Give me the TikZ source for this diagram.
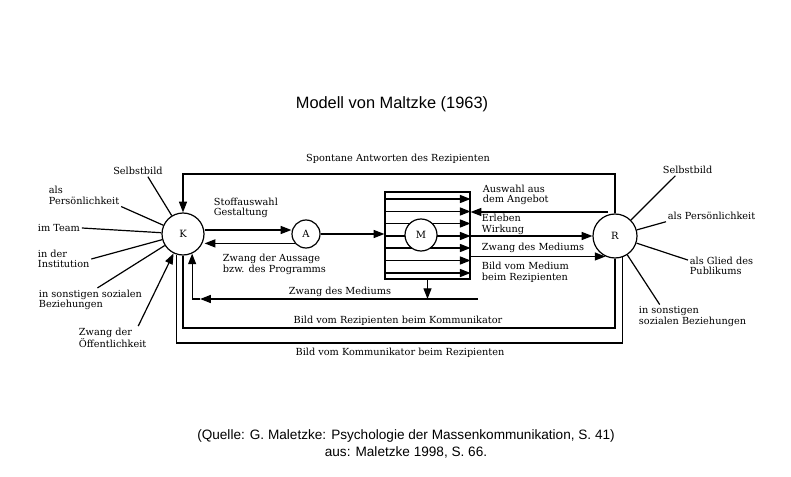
\documentclass[tikz,border=0pt]{standalone}
\usepackage{fontspec}
\usetikzlibrary{arrows.meta,positioning}
\newfontfamily\diafont{DejaVu Serif}
\newfontfamily\capfont{Liberation Sans}

\begin{document}
\begin{tikzpicture}[x=0.75pt,y=-0.75pt,line width=0.9pt,
    lbl/.style={font=\diafont\fontsize{7.3}{8}\selectfont,inner sep=1pt,align=left},
    pers/.style={draw,circle,fill=white,inner sep=0pt,font=\diafont\fontsize{7.5}{9}\selectfont},
    arr/.style={-{Triangle[length=8pt,width=6pt]}}]
    \useasboundingbox (0,0) rectangle (791,477);
    \node[font=\capfont\fontsize{12.3}{14}\selectfont] (title) at (392,104) {Modell von Maltzke (1963)};
    \node[font=\capfont\fontsize{10.2}{12.2}\selectfont,align=center] (src) at (406,444)
        {(Quelle: G. Maletzke: Psychologie der Massenkommunikation, S. 41)\\aus: Maletzke 1998, S. 66.};

    \node[pers,minimum size=31.5pt] (K) at (183,234) {K};
    \node[pers,minimum size=21pt] (A) at (306,234) {A};
    \node[pers,minimum size=33pt] (R) at (615,236) {R};
    \node[draw,minimum width=63.75pt,minimum height=65.25pt,inner sep=0pt] (box) at (427.5,235.5) {};
    \foreach \y in {199,211.5,223.5,236,248,260.5,273}
        \draw[arr] (box.west |- 0,\y) -- (box.east |- 0,\y);
    \node[pers,minimum size=24pt] (M) at (421,235) {M};

    \coordinate (top) at (400,174); \coordinate (aw) at (608,212);
    \coordinate (zm) at (478,299); \coordinate (zc) at (zm -| K.295);
    \coordinate (brk) at (400,328); \coordinate (bkr) at (400,343);

    \draw[arr] ([yshift=3pt]K.east) -- ([yshift=3pt]A.west);
    \draw[arr] (A.220) -- (A.220 -| K.east);
    \draw[arr] (A.east) -- (A.east -| box.west);
    \draw[arr] (box.east |- R.west) -- (R.west);
    \draw[arr] (box.east |- R.245) -- (R.245);
    \draw[arr] (aw) -- (aw -| box.east);
    \draw[arr] (R.north) |- (top) -| (K.north);
    \draw[arr] (box.south) -- (box.south |- zm);
    \draw[arr] (zm) -- ([xshift=6pt]zc);
    \draw[arr] ([xshift=6pt]zc) -| (K.295);
    \draw (R.south) |- (brk) -| (K.south);
    \draw (R.290) |- (bkr) -| (K.253);

    \node[lbl] (spa) at (398,159) {Spontane Antworten des Rezipienten};
    \node[lbl,anchor=west] (sto) at (212,208) {Stoffauswahl\\Gestaltung};
    \node[lbl,anchor=west] (zda) at (221,264.5) {Zwang der Aussage\\bzw. des Programms};
    \node[lbl] (zdm) at (340,292) {Zwang des Mediums};
    \node[lbl] (brb) at (398,321) {Bild vom Rezipienten beim Kommunikator};
    \node[lbl] (bkb) at (400,353) {Bild vom Kommunikator beim Rezipienten};
    \node[lbl,anchor=west] (aus) at (481,195) {Auswahl aus\\dem Angebot};
    \node[lbl,anchor=west] (erl) at (480,224.5) {Erleben\\Wirkung};
    \node[lbl,anchor=west] (zmr) at (480,248) {Zwang des Mediums};
    \node[lbl,anchor=west] (bmr) at (480,272.5) {Bild vom Medium\\beim Rezipienten};

    \node[lbl] (ksb) at (138,171) {Selbstbild};
    \node[lbl,anchor=west] (kpe) at (47,195.5) {als\\Persönlichkeit};
    \node[lbl,anchor=west] (kte) at (36,228) {im Team};
    \node[lbl,anchor=west] (kin) at (36,259) {in der\\Institution};
    \node[lbl,anchor=west] (ksz) at (37,300) {in sonstigen sozialen\\Beziehungen};
    \node[lbl,anchor=west] (kzo) at (77,338) {Zwang der\\Öffentlichkeit};
    \foreach \n/\a in {ksb/-30,kpe/south east,kte/east,kin/east,ksz/60}
        \draw (\n.\a) -- (K);
    \draw[arr] (kzo.25) -- (K);

    \node[lbl,anchor=west] (rsb) at (661,170) {Selbstbild};
    \node[lbl,anchor=west] (rpe) at (666,216) {als Persönlichkeit};
    \node[lbl,anchor=west] (rgl) at (688,266) {als Glied des\\Publikums};
    \node[lbl,anchor=west] (rso) at (637,316.5) {in sonstigen\\sozialen Beziehungen};
    \foreach \n/\a in {rsb/205,rpe/south west,rgl/170,rso/160}
        \draw (\n.\a) -- (R);
\end{tikzpicture}
\end{document}
